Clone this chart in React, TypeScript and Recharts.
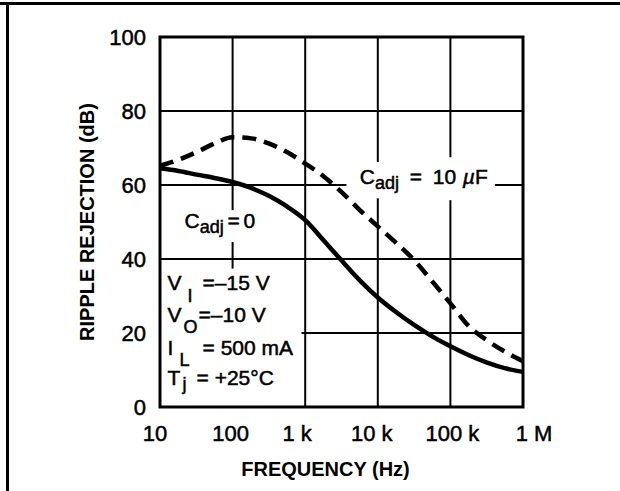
import React from 'react';
import {
  LineChart,
  Line,
  XAxis,
  YAxis,
  ReferenceLine,
  ReferenceArea,
  ReferenceDot,
} from 'recharts';

// frequency points (Hz)
const FREQ = [
  10, 18, 32, 56, 100, 180, 320, 560, 1000, 1800, 3200, 5600,
  10000, 18000, 32000, 56000, 100000, 180000, 320000, 560000, 1000000,
];
// ripple rejection (dB), Cadj = 0 (solid)
const CADJ_0 = [
  64.5, 63.8, 62.8, 61.9, 60.8, 59.2, 57, 54.2, 50.5, 45, 39.5, 34.3,
  29.6, 25.6, 22.1, 19.1, 16.4, 14, 12, 10.5, 9.5,
];
// ripple rejection (dB), Cadj = 10 uF (dashed)
const CADJ_10UF = [
  65.2, 66.8, 68.9, 71.2, 72.9, 72.6, 71.2, 68.9, 65.8, 62.3, 58, 53.3,
  48.8, 44.3, 39.6, 34, 28, 21.8, 18, 15, 12.4,
];

const X_TICKS = [10, 100, 1000, 10000, 100000, 1000000];
const X_TICK_LABELS = ['10', '100', '1 k', '10 k', '100 k', '1 M'];
const Y_TICKS = [0, 20, 40, 60, 80, 100];

// grid pieces (the printed grid is broken around the labels)
const H_GRID = [
  { y: 80, x1: 10, x2: 1000000 },
  { y: 60, x1: 10, x2: 3700 },
  { y: 60, x1: 410000, x2: 1000000 },
  { y: 40, x1: 10, x2: 1000000 },
  { y: 20, x1: 890, x2: 1000000 },
];
const V_GRID = [
  { x: 100, y1: 53.2, y2: 100 },
  { x: 100, y1: 37.4, y2: 44.6 },
  { x: 1000, y1: 0, y2: 100 },
  { x: 10000, y1: 66.2, y2: 100 },
  { x: 10000, y1: 0, y2: 56.4 },
  { x: 100000, y1: 67.5, y2: 100 },
  { x: 100000, y1: 0, y2: 55.9 },
];

const data = FREQ.map((f, i) => ({ f, c0: CADJ_0[i], c10: CADJ_10UF[i] }));

const FONT = '"Liberation Sans", Arial, Helvetica, sans-serif';
const TICK_NUDGE = [-5, -2, -8, -6, 2, 11];
const INK = { fill: '#000', stroke: '#000', strokeWidth: 0.5 };

const XTick = (props: any) => {
  const { x, y, payload, index } = props;
  const i = X_TICKS.indexOf(payload.value);
  return (
    <text
      x={x + (TICK_NUDGE[i] ?? 0)}
      y={y + 32}
      textAnchor="middle"
      fontFamily={FONT}
      fontSize={22}
      {...INK}
    >
      {X_TICK_LABELS[i] ?? index}
    </text>
  );
};

const CadjTen = ({ cx, cy }: any) => (
  <text x={cx} y={cy} fontFamily={FONT} fontSize={21} {...INK}>
    <tspan>C</tspan>
    <tspan dy={5} fontSize={18}>adj</tspan>
    <tspan x={cx + 50} dy={-5}>=</tspan>
    <tspan x={cx + 73}>10</tspan>
    <tspan x={cx + 103} fontStyle="italic">µ</tspan>
    <tspan>F</tspan>
  </text>
);

const CadjZero = ({ cx, cy }: any) => (
  <text x={cx} y={cy} fontFamily={FONT} fontSize={21} {...INK}>
    <tspan>C</tspan>
    <tspan dy={5} fontSize={18}>adj</tspan>
    <tspan x={cx + 43} dy={-5}>=</tspan>
    <tspan x={cx + 59}>0</tspan>
  </text>
);

const Conditions = ({ cx, cy }: any) => {
  const t = { fontFamily: FONT, fontSize: 21, ...INK };
  const s = { fontFamily: FONT, fontSize: 18, ...INK };
  return (
    <g>
      <text x={cx} y={cy} {...t}>V</text>
      <text x={cx + 20} y={cy + 12} {...s}>I</text>
      <text x={cx + 35} y={cy} {...t}>=–15 V</text>

      <text x={cx} y={cy + 32} {...t}>V</text>
      <text x={cx + 16} y={cy + 43} {...s}>O</text>
      <text x={cx + 31} y={cy + 32} {...t}>=–10 V</text>

      <text x={cx} y={cy + 65} {...t}>I</text>
      <text x={cx + 12} y={cy + 76} {...s}>L</text>
      <text x={cx + 35} y={cy + 65} {...t}>= 500 mA</text>

      <text x={cx} y={cy + 95} {...t}>T</text>
      <text x={cx + 15} y={cy + 100} {...s}>j</text>
      <text x={cx + 29} y={cy + 95} {...t}>=  +25°C</text>
    </g>
  );
};

export default function App() {
  return (
    <div style={{ position: 'absolute', left: 0, top: 0, width: 620, height: 491, background: '#fff' }}>
      <div style={{ position: 'absolute', left: 0, top: 2, width: 620, height: 3, background: '#000' }} />
      <div style={{ position: 'absolute', left: 6, top: 2, width: 3, height: 489, background: '#000' }} />
      <LineChart
        width={620}
        height={491}
        data={data}
        margin={{ top: 37, right: 97, bottom: 0, left: 0 }}
      >
        <XAxis
          dataKey="f"
          type="number"
          scale="log"
          domain={[10, 1000000]}
          ticks={X_TICKS}
          interval={0}
          axisLine={false}
          tickLine={false}
          tickSize={0}
          height={84}
          tick={<XTick />}
          label={{
            value: 'FREQUENCY (Hz)',
            position: 'insideBottom',
            offset: 15,
            dx: -16,
            fill: '#000',
            fontFamily: FONT,
            fontSize: 20,
            fontWeight: 'bold',
          }}
        />
        <YAxis
          type="number"
          domain={[0, 100]}
          ticks={Y_TICKS}
          interval={0}
          width={160}
          axisLine={false}
          tickLine={false}
          tickSize={0}
          tickMargin={14}
          tick={{ fontFamily: FONT, fontSize: 22, ...INK }}
          label={{
            value: 'RIPPLE REJECTION (dB)',
            angle: -90,
            position: 'insideLeft',
            offset: 87,
            style: { textAnchor: 'middle' },
            fill: '#000',
            fontFamily: FONT,
            fontSize: 20,
            fontWeight: 'bold',
          }}
        />

        {H_GRID.map((g, i) => (
          <ReferenceLine
            key={`h${i}`}
            segment={[{ x: g.x1, y: g.y }, { x: g.x2, y: g.y }]}
            stroke="#000"
            strokeWidth={2}
          />
        ))}
        {V_GRID.map((g, i) => (
          <ReferenceLine
            key={`v${i}`}
            segment={[{ x: g.x, y: g.y1 }, { x: g.x, y: g.y2 }]}
            stroke="#000"
            strokeWidth={2}
          />
        ))}
        <ReferenceArea
          x1={10}
          x2={1000000}
          y1={0}
          y2={100}
          fill="none"
          fillOpacity={0}
          stroke="#000"
          strokeWidth={3}
        />

        <Line
          type="monotone"
          dataKey="c10"
          stroke="#000"
          strokeWidth={4.5}
          strokeDasharray="14 8"
          dot={false}
          isAnimationActive={false}
        />
        <Line
          type="monotone"
          dataKey="c0"
          stroke="#000"
          strokeWidth={4.5}
          dot={false}
          isAnimationActive={false}
        />

        <ReferenceDot x={5650} y={60.2} r={0} shape={<CadjTen />} />
        <ReferenceDot x={21.8} y={48.3} r={0} shape={<CadjZero />} />
        <ReferenceDot x={12.7} y={31.5} r={0} shape={<Conditions />} />
      </LineChart>
    </div>
  );
}
